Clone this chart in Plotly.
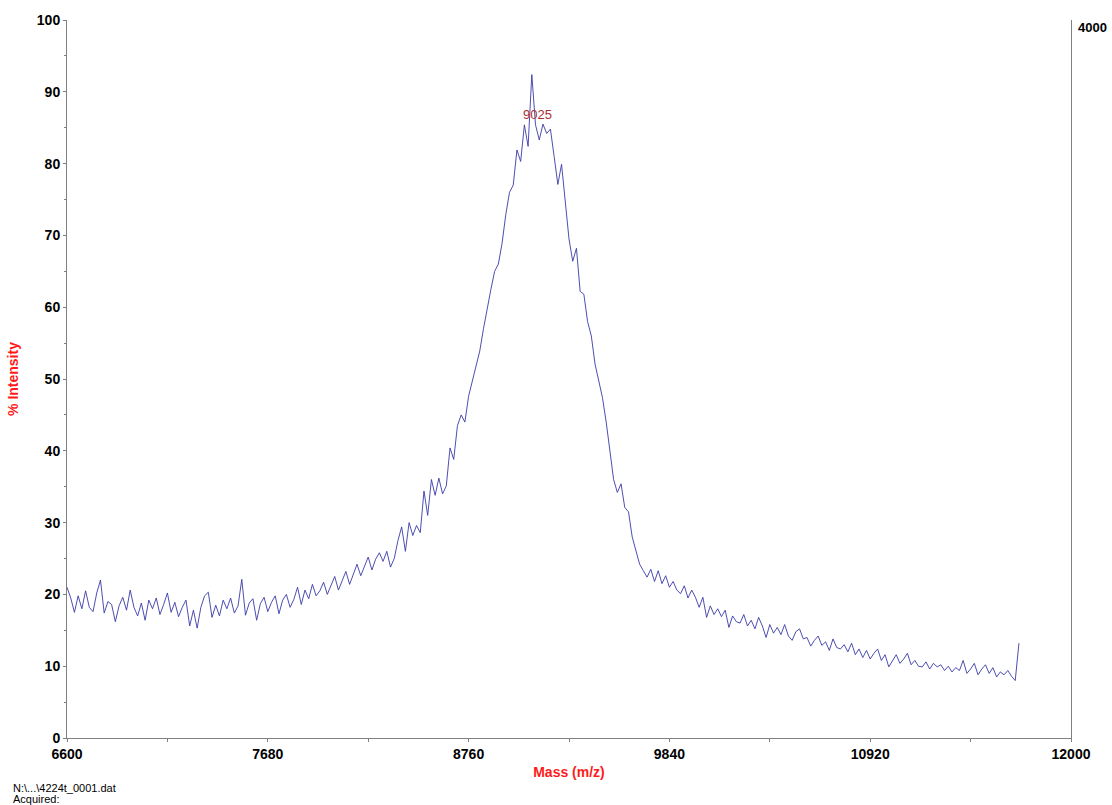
import plotly.graph_objects as go

# ---- data (20 Da sampling) ----
STEP = 20
start_a = 6600
intensity_a = [  # 6600 - 7980
    21.0, 19.5, 17.5, 19.8, 18.0, 20.5, 18.2, 17.6, 20.2, 22.0,
    17.4, 19.0, 18.6, 16.2, 18.4, 19.6, 17.8, 20.6, 18.2, 17.0,
    18.8, 16.4, 19.2, 18.0, 19.5, 17.2, 18.6, 20.2, 17.5, 18.9,
    16.9, 18.2, 19.2, 15.6, 17.8, 15.3, 18.2, 19.8, 20.3, 16.8,
    18.5, 17.0, 19.2, 18.0, 19.5, 17.4, 18.4, 22.1, 17.1, 18.8,
    19.4, 16.4, 18.7, 19.6, 17.6, 18.9, 19.8, 17.3, 19.2, 20.0,
    18.2, 19.3, 21.0, 18.6, 20.6, 19.4, 21.4, 19.8, 20.5, 21.7,
]
start_b = 8000
intensity_b = [  # 8000 - 8980
    20.0, 21.2, 22.5, 20.6, 22.0, 23.2, 21.4, 22.8, 24.2, 22.6,
    24.0, 25.2, 23.4, 24.9, 25.8, 24.6, 26.0, 23.8, 25.0, 27.5,
    29.4, 26.0, 30.0, 28.2, 29.6, 28.6, 34.4, 31.0, 36.0, 33.8,
    36.2, 34.0, 35.1, 40.4, 38.8, 43.5, 45.0, 44.0, 47.6, 49.7,
    51.5, 53.9, 57.0, 59.9, 62.5, 65.0, 66.0, 68.9, 72.9, 76.0,
]
start_c = 9000
intensity_c = [  # 9000 - 9380
    77.0, 81.9, 80.3, 85.4, 82.4, 92.4, 85.4, 83.3, 85.5, 84.2,
    84.8, 81.0, 77.1, 79.9, 75.0, 69.5, 66.4, 68.2, 62.2, 61.8,
]
start_d = 9400
intensity_d = [  # 9400 - 9980
    58.0, 56.0, 52.1, 49.7, 47.4, 44.0, 40.0, 36.0, 34.2, 35.4,
    32.1, 31.5, 28.0, 26.0, 24.2, 23.3, 22.4, 23.5, 21.8, 23.3,
    21.5, 22.6, 21.0, 21.8, 20.6, 20.1, 21.2, 19.5, 20.6, 19.6,
]
start_e = 10000
intensity_e = [  # 10000 - 11720
    18.2, 19.6, 16.8, 18.4, 17.2, 18.0, 16.9, 17.8, 15.4, 17.0,
    16.2, 16.0, 17.2, 15.6, 16.4, 15.2, 16.8, 15.6, 14.0, 15.8,
    14.6, 15.4, 14.4, 15.8, 14.2, 13.6, 14.8, 15.2, 13.8, 14.0,
    12.8, 13.6, 14.2, 12.9, 13.4, 12.2, 13.8, 12.6, 12.4, 13.0,
    12.0, 13.2, 11.6, 12.4, 11.2, 12.2, 11.0, 11.8, 12.4, 10.8,
    11.6, 9.9, 10.8, 11.6, 10.4, 11.0, 11.8, 10.2, 10.8, 10.0,
    9.9, 10.6, 9.6, 10.4, 9.9, 10.2, 9.4, 10.0, 9.2, 9.8,
    9.4, 10.8, 9.0, 9.6, 10.4, 8.8, 9.6, 10.2, 9.0, 9.8,
    8.5, 9.2, 8.8, 9.4, 8.6, 8.0, 13.2,
]

x_ticks = [6600, 7680, 8760, 9840, 10920, 12000]
peak_label = "9025"
peak_label_mass = 9128
peak_label_intensity = 86.8
right_axis_label = "4000"
file_lines = ["N:\\...\\4224t_0001.dat", "Acquired:"]

segments = [(start_a, intensity_a), (start_b, intensity_b), (start_c, intensity_c),
            (start_d, intensity_d), (start_e, intensity_e)]
mass, inten = [], []
for s, vals in segments:
    for i, v in enumerate(vals):
        mass.append(s + STEP * i)
        inten.append(v)

fig = go.Figure()
fig.add_trace(go.Scatter(x=mass, y=inten, mode="lines",
                         line=dict(color="#3a3aa8", width=0.9), showlegend=False,
                         hoverinfo="skip"))

tick_font = dict(family="Liberation Sans, Arial, sans-serif", size=14, color="#000000")
title_font = dict(family="Liberation Sans, Arial, sans-serif", size=14, color="#ff1a1a")

fig.update_layout(
    width=1112, height=805,
    margin=dict(l=67, r=41, t=18, b=67),
    paper_bgcolor="white", plot_bgcolor="white",
    font=dict(family="Liberation Sans, Arial, sans-serif"),
    xaxis=dict(range=[6600, 12000], tickvals=x_ticks,
               ticktext=["<b>%d</b>" % t for t in x_ticks],
               showgrid=False, zeroline=False, showline=True, linecolor="#808080", linewidth=1,
               ticks="outside", ticklen=3, tickcolor="#808080",
               minor=dict(tickvals=[7140, 8220, 9300, 10380, 11460], ticks="outside",
                          ticklen=3, tickcolor="#808080"),
               tickfont=tick_font,
               title=dict(text="<b>Mass (m/z)</b>", font=title_font, standoff=6)),
    yaxis=dict(range=[0, 100], tickvals=list(range(0, 101, 10)),
               ticktext=["<b>%d</b>" % t for t in range(0, 101, 10)],
               showgrid=False, zeroline=False, showline=True, mirror=True,
               linecolor="#808080", linewidth=1,
               ticks="outside", ticklen=3, tickcolor="#808080",
               minor=dict(tickvals=list(range(5, 100, 10)), ticks="outside",
                          ticklen=2, tickcolor="#808080"),
               tickfont=tick_font,
               title=dict(text="<b>% Intensity</b>", font=title_font, standoff=14)),
)

fig.add_annotation(x=peak_label_mass, y=peak_label_intensity, text=peak_label,
                   showarrow=False, font=dict(family="Liberation Sans, Arial, sans-serif",
                                              size=13, color="#a83232"))
fig.add_annotation(xref="paper", yref="paper", x=(1076 - 67) / 1004, y=(738 - 26) / 720,
                   xanchor="left", yanchor="middle", text="<b>%s</b>" % right_axis_label,
                   showarrow=False, font=dict(family="Liberation Sans, Arial, sans-serif",
                                              size=13, color="#000000"))
for i, line in enumerate(file_lines):
    fig.add_annotation(xref="paper", yref="paper", x=(11 - 67) / 1004,
                       y=(738 - (788 + 11.5 * i)) / 720, xanchor="left", yanchor="middle",
                       text=line, showarrow=False,
                       font=dict(family="Liberation Sans, Arial, sans-serif", size=11,
                                 color="#000000"))

fig.write_html("out.html")
